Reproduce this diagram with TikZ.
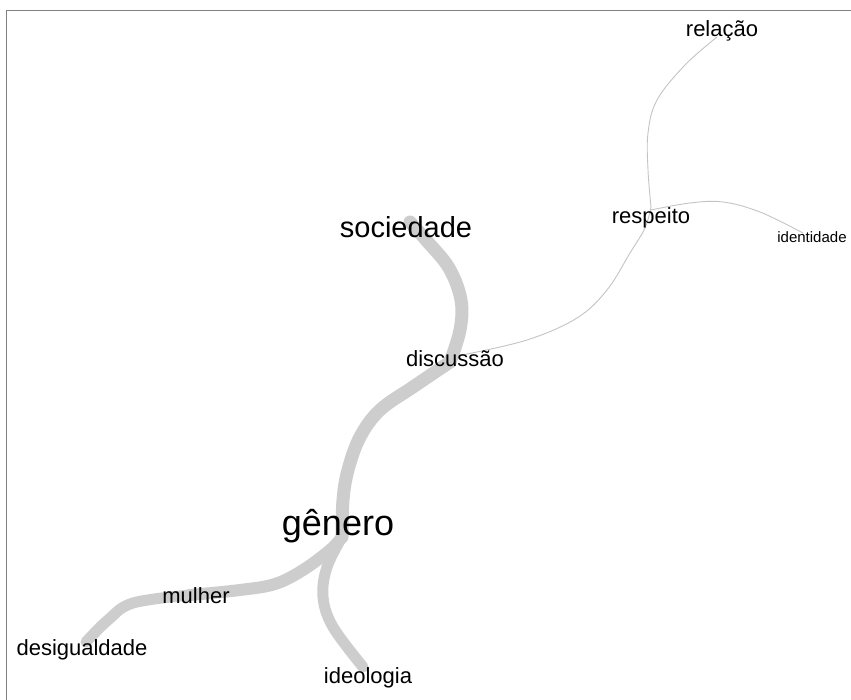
\documentclass[tikz,border=0pt]{standalone}
\usepackage{fontspec}
\setmainfont{Liberation Sans}
\usetikzlibrary{backgrounds,calc}
\definecolor{edgegray}{HTML}{CDCDCD}
\definecolor{thingray}{HTML}{C4C4C4}
\definecolor{framegray}{HTML}{808080}
\begin{document}
\begin{tikzpicture}[x=1pt,y=-1pt,
  word/.style={inner sep=0pt,text=black},
  thick edge/.style={draw=edgegray,line cap=round,line join=round},
  thin edge/.style={draw=thingray,line width=0.9pt}]
\useasboundingbox (0,0) rectangle (851,700);
% nodes
\node[word,font=\fontsize{22}{24}\selectfont] (rel) at (722,31) {relação};
\node[word,font=\fontsize{22}{24}\selectfont] (resp) at (651,218) {respeito};
\node[word,font=\fontsize{15}{17}\selectfont] (ident) at (812,237) {identidade};
\node[word,font=\fontsize{29}{31}\selectfont] (soc) at (406,227) {sociedade};
\node[word,font=\fontsize{22}{24}\selectfont] (disc) at (455,359) {discussão};
\node[word,font=\fontsize{36}{38}\selectfont] (gen) at (338,526) {gênero};
\node[word,font=\fontsize{22}{24}\selectfont] (mul) at (196,596) {mulher};
\node[word,font=\fontsize{22}{24}\selectfont] (desig) at (82,650) {desigualdade};
\node[word,font=\fontsize{22}{24}\selectfont] (ideo) at (368,678) {ideologia};
\begin{scope}[on background layer]
\fill[white] (0,0) rectangle (851,700);
\draw[framegray,line width=1.5pt] (6.5,700) -- (6.5,10.5) -- (851,10.5);
\draw[thick edge,line width=13pt] plot[smooth,tension=0.6] coordinates
  {($(soc)+(4,-5)$) (426,240) (449,268) (461,300) (460,330) ($(disc)+(-5,3)$)};
\draw[thick edge,line width=13pt] plot[smooth,tension=0.6] coordinates
  {($(disc)+(-5,3)$) (413,387) (380,410) (360,437) (348,470) (343,500) ($(gen)+(4,11)$)};
\draw[thick edge,line width=12pt] plot[smooth,tension=0.6] coordinates
  {($(gen)+(4,11)$) (330,550) (303,570) (275,584) (240,590) ($(mul)+(-6,-1)$)};
\draw[thick edge,line width=11pt] plot[smooth,tension=0.6] coordinates
  {($(mul)+(-6,-1)$) (133,603) (108,620) ($(desig)+(4,-8)$)};
\draw[thick edge,line width=11pt] plot[smooth,tension=0.6] coordinates
  {($(gen)+(4,11)$) (327,567) (323,597) (333,627) ($(ideo)+(-5,-11)$)};
\draw[thin edge] plot[smooth,tension=0.6] coordinates
  {($(disc)+(7,-4)$) (527,340) (577,318) (607,290) (630,253) (645,228) ($(resp)+(0,-11)$)};
\draw[thin edge] plot[smooth,tension=0.6] coordinates
  {($(resp)+(0,-11)$) (648,170) (648,133) (657,100) (685,65) ($(rel)+(-5,6)$)};
\draw[thin edge] plot[smooth,tension=0.6] coordinates
  {($(resp)+(0,-8)$) (690,203) (723,202) (760,212) ($(ident)+(-9,-4)$)};
\end{scope}
\end{tikzpicture}
\end{document}
